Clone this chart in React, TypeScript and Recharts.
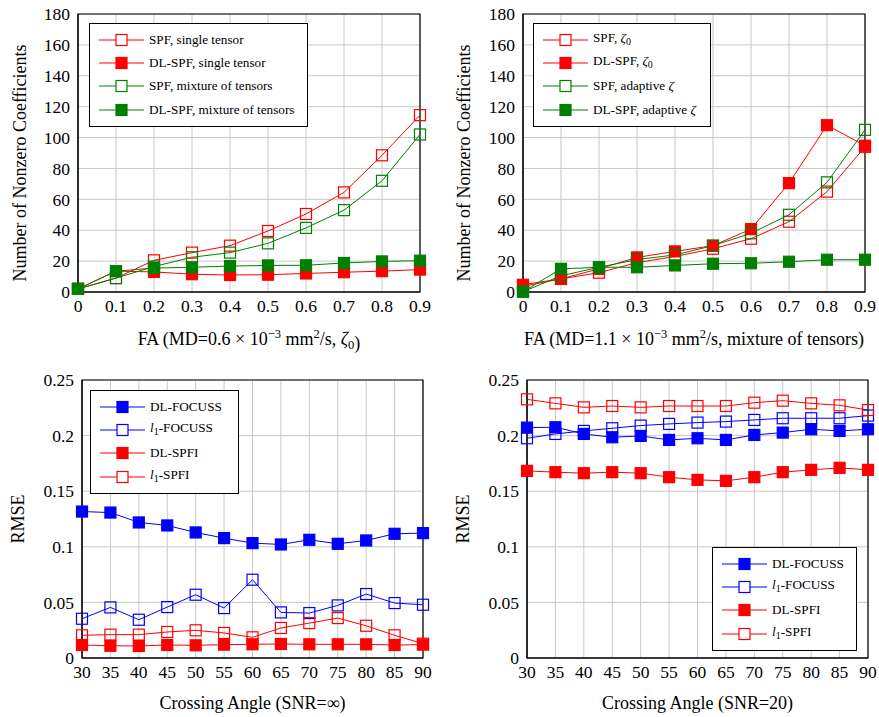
import React from 'react'
import { LineChart, Line, XAxis, YAxis, CartesianGrid, ReferenceArea, Legend, Label } from 'recharts'

// top row: fractional anisotropy sweep
const fa = [0, 0.1, 0.2, 0.3, 0.4, 0.5, 0.6, 0.7, 0.8, 0.9]
const countTicks = [0, 20, 40, 60, 80, 100, 120, 140, 160, 180]

const spfSingle = [2, 9, 20.5, 25.5, 30, 39.5, 50.5, 64.5, 88.5, 114.5]
const dlSpfSingle = [2, 13.5, 13, 11.5, 11, 11.2, 12, 12.8, 13.5, 14.5]
const spfMixture = [2, 9, 16.5, 22.5, 25.5, 31.5, 41.5, 53, 72, 102]
const dlSpfMixture = [2, 13.5, 15.5, 16, 16.8, 17.2, 17.3, 18.8, 19.8, 20.3]

const spfZeta0 = [3.7, 8.5, 12.5, 19, 23, 28, 34.5, 45.5, 65, 94]
const dlSpfZeta0 = [4.7, 8.5, 15, 22.4, 26.3, 30, 40.7, 70.5, 108, 94.7]
const spfAdaptive = [0.2, 10.5, 16, 21, 24, 30, 38, 50, 71, 105]
const dlSpfAdaptive = [0.2, 15, 16, 16, 17.2, 18.3, 18.6, 19.6, 20.9, 20.9]

// bottom row: crossing angle sweep
const angles = [30, 35, 40, 45, 50, 55, 60, 65, 70, 75, 80, 85, 90]
const rmseTicks = [0, 0.05, 0.1, 0.15, 0.2, 0.25]

const dlFocussInf = [0.1317, 0.1308, 0.1219, 0.1192, 0.1129, 0.1078, 0.1033, 0.1021, 0.1063, 0.1027, 0.1057, 0.1117, 0.1123]
const l1FocussInf = [0.0353, 0.0455, 0.0344, 0.0458, 0.0569, 0.0449, 0.0704, 0.041, 0.0404, 0.0473, 0.0575, 0.0494, 0.0479]
const dlSpfiInf = [0.0117, 0.011, 0.0108, 0.0117, 0.0114, 0.012, 0.0123, 0.0126, 0.0123, 0.0123, 0.0123, 0.0117, 0.012]
const l1SpfiInf = [0.0204, 0.021, 0.021, 0.0234, 0.0249, 0.0225, 0.0186, 0.027, 0.0314, 0.0359, 0.029, 0.0204, 0.0129]

const dlFocuss20 = [0.2072, 0.2075, 0.2015, 0.1985, 0.1997, 0.1961, 0.1976, 0.1961, 0.2006, 0.2027, 0.2057, 0.2042, 0.2057]
const l1Focuss20 = [0.1976, 0.2015, 0.2042, 0.2066, 0.209, 0.2105, 0.2117, 0.2126, 0.2141, 0.2156, 0.2156, 0.2156, 0.218]
const dlSpfi20 = [0.1683, 0.1671, 0.1662, 0.1671, 0.1662, 0.1626, 0.1602, 0.1593, 0.1626, 0.1671, 0.1692, 0.171, 0.1692]
const l1Spfi20 = [0.2326, 0.229, 0.2254, 0.2266, 0.2254, 0.2266, 0.2266, 0.2266, 0.2296, 0.2314, 0.229, 0.2272, 0.223]

const RED = '#ff0000'
const GREEN = '#008000'
const BLUE = '#0000ff'
const FONT = "'Liberation Serif', 'DejaVu Serif', serif"

const zeta0 = (
  <>
    <i>ζ</i>
    <sub style={{ fontSize: 10, verticalAlign: -3 }}>0</sub>
  </>
)
const l1 = (
  <>
    <i>l</i>
    <sub style={{ fontSize: 10, verticalAlign: -3 }}>1</sub>
  </>
)

const topLeftSeries = [
  { key: 'spfSingle', values: spfSingle, color: RED, filled: false, label: 'SPF, single tensor' },
  { key: 'dlSpfSingle', values: dlSpfSingle, color: RED, filled: true, label: 'DL-SPF, single tensor' },
  { key: 'spfMixture', values: spfMixture, color: GREEN, filled: false, label: 'SPF, mixture of tensors' },
  { key: 'dlSpfMixture', values: dlSpfMixture, color: GREEN, filled: true, label: 'DL-SPF, mixture of tensors' },
]
const topRightSeries = [
  { key: 'spfZeta0', values: spfZeta0, color: RED, filled: false, label: <>SPF, {zeta0}</> },
  { key: 'dlSpfZeta0', values: dlSpfZeta0, color: RED, filled: true, label: <>DL-SPF, {zeta0}</> },
  { key: 'spfAdaptive', values: spfAdaptive, color: GREEN, filled: false, label: <>SPF, adaptive <i>ζ</i></> },
  { key: 'dlSpfAdaptive', values: dlSpfAdaptive, color: GREEN, filled: true, label: <>DL-SPF, adaptive <i>ζ</i></> },
]
const bottomLeftSeries = [
  { key: 'dlFocuss', values: dlFocussInf, color: BLUE, filled: true, label: 'DL-FOCUSS' },
  { key: 'l1Focuss', values: l1FocussInf, color: BLUE, filled: false, label: <>{l1}-FOCUSS</> },
  { key: 'dlSpfi', values: dlSpfiInf, color: RED, filled: true, label: 'DL-SPFI' },
  { key: 'l1Spfi', values: l1SpfiInf, color: RED, filled: false, label: <>{l1}-SPFI</> },
]
const bottomRightSeries = [
  { key: 'dlFocuss', values: dlFocuss20, color: BLUE, filled: true, label: 'DL-FOCUSS' },
  { key: 'l1Focuss', values: l1Focuss20, color: BLUE, filled: false, label: <>{l1}-FOCUSS</> },
  { key: 'dlSpfi', values: dlSpfi20, color: RED, filled: true, label: 'DL-SPFI' },
  { key: 'l1Spfi', values: l1Spfi20, color: RED, filled: false, label: <>{l1}-SPFI</> },
]

const buildRows = (xs, xKey, series) =>
  xs.map((x, i) => {
    const row = { [xKey]: x }
    series.forEach((s) => (row[s.key] = s.values[i]))
    return row
  })

const squareDot = (color, filled) => (props) => {
  const { cx, cy, index } = props
  if (cx == null || cy == null) return null
  return (
    <rect
      key={index}
      x={cx - 5.5}
      y={cy - 5.5}
      width={11}
      height={11}
      fill={filled ? color : 'none'}
      stroke={color}
      strokeWidth={1.2}
    />
  )
}

const LegendBox = ({ series, width }) => (
  <div
    style={{
      boxSizing: 'border-box',
      width,
      height: 104,
      border: '1.3px solid #000',
      background: '#fff',
      padding: '4px 0 0 9px',
      fontFamily: FONT,
      fontSize: 13.2,
      color: '#000',
    }}
  >
    {series.map((s) => (
      <div key={s.key} style={{ display: 'flex', alignItems: 'center', height: 23.4, whiteSpace: 'nowrap' }}>
        <svg width={45} height={14} style={{ flex: 'none' }}>
          <line x1={0} y1={7} x2={45} y2={7} stroke={s.color} strokeWidth={1} />
          <rect x={17} y={1.5} width={11} height={11} fill={s.filled ? s.color : '#fff'} stroke={s.color} strokeWidth={1.2} />
        </svg>
        <span style={{ marginLeft: 5, lineHeight: '14px' }}>{s.label}</span>
      </div>
    ))}
  </div>
)

const yTitle = (text, x, y) => () => (
  <text
    x={x}
    y={y}
    transform={`rotate(-90, ${x}, ${y})`}
    textAnchor="middle"
    dominantBaseline="central"
    style={{ fontFamily: FONT, fontSize: 18 }}
    fill="#000"
  >
    {text}
  </text>
)

const xTitle = (parts, baseline) => (props) => {
  const { viewBox } = props
  return (
    <text x={viewBox.x + viewBox.width / 2} y={baseline} textAnchor="middle" style={{ fontFamily: FONT, fontSize: 18 }} fill="#000">
      {parts}
    </text>
  )
}

const faTitle = (md, tail) => (
  <>
    <tspan>{`FA (MD=${md} × 10`}</tspan>
    <tspan dy={-7} fontSize={12.5}>−3</tspan>
    <tspan dy={7}> mm</tspan>
    <tspan dy={-7} fontSize={12.5}>2</tspan>
    <tspan dy={7}>{'/s, '}</tspan>
    {tail}
    <tspan>)</tspan>
  </>
)

const tick = { fill: '#000', fontSize: 17.5, style: { fontFamily: FONT } }

const Panel = ({ left, top, margin, xKey, xs, xTicks, xDomain, yTicks, yDomain, series, legendPos, legendWidth, xLabel, xBaseline, yText, yTextX, yTextY }) => {
  const rows = buildRows(xs, xKey, series)
  return (
    <div style={{ position: 'absolute', left, top, fontFamily: FONT }}>
      <LineChart width={440} height={360} data={rows} margin={margin} style={{ fontFamily: FONT }}>
        <CartesianGrid stroke="#c8c8c8" strokeWidth={1} />
        <XAxis
          dataKey={xKey}
          type="number"
          domain={xDomain}
          ticks={xTicks}
          interval={0}
          height={30}
          tick={tick}
          tickLine={false}
          tickSize={6}
          tickMargin={2}
          axisLine={{ stroke: '#000' }}
        >
          <Label content={xTitle(xLabel, xBaseline)} />
        </XAxis>
        <YAxis
          type="number"
          domain={yDomain}
          ticks={yTicks}
          interval={0}
          width={60}
          tick={tick}
          tickLine={false}
          tickSize={6}
          tickMargin={2}
          axisLine={{ stroke: '#000' }}
        >
          <Label content={yTitle(yText, yTextX, yTextY)} />
        </YAxis>
        <ReferenceArea x1={xDomain[0]} x2={xDomain[1]} y1={yDomain[0]} y2={yDomain[1]} fill="none" stroke="#000" strokeWidth={1.2} />
        {series.map((s) => (
          <Line
            key={s.key}
            dataKey={s.key}
            stroke={s.color}
            strokeWidth={1}
            type="linear"
            dot={squareDot(s.color, s.filled)}
            isAnimationActive={false}
          />
        ))}
        <Legend
          layout="vertical"
          align="center"
          verticalAlign="middle"
          wrapperStyle={{ top: legendPos.top, left: legendPos.left, width: 'auto', height: 'auto' }}
          content={() => <LegendBox series={series} width={legendWidth} />}
        />
      </LineChart>
    </div>
  )
}

export default function App() {
  return (
    <div style={{ position: 'absolute', left: 0, top: 0, width: 879, height: 717, background: '#fff', fontFamily: FONT }}>
      <Panel
        left={0}
        top={0}
        margin={{ top: 14, right: 20, bottom: 38, left: 18 }}
        xKey="fa"
        xs={fa}
        xTicks={fa}
        xDomain={[0, 0.9]}
        yTicks={countTicks}
        yDomain={[0, 180]}
        series={topLeftSeries}
        legendPos={{ top: 23, left: 89 }}
        legendWidth={219}
        xLabel={faTitle('0.6', <><tspan fontStyle="italic">ζ</tspan><tspan dy={4} fontSize={12.5}>0</tspan><tspan dy={-4}></tspan></>)}
        xBaseline={345}
        yText="Number of Nonzero Coefficients"
        yTextX={20}
        yTextY={163}
      />
      <Panel
        left={440}
        top={0}
        margin={{ top: 14, right: 15, bottom: 38, left: 23 }}
        xKey="fa"
        xs={fa}
        xTicks={fa}
        xDomain={[0, 0.9]}
        yTicks={countTicks}
        yDomain={[0, 180]}
        series={topRightSeries}
        legendPos={{ top: 23, left: 93 }}
        legendWidth={178}
        xLabel={faTitle('1.1', <tspan>mixture of tensors</tspan>)}
        xBaseline={345}
        yText="Number of Nonzero Coefficients"
        yTextX={24}
        yTextY={163}
      />
      <Panel
        left={0}
        top={360}
        margin={{ top: 20, right: 17, bottom: 32, left: 22 }}
        xKey="angle"
        xs={angles}
        xTicks={angles}
        xDomain={[30, 90]}
        yTicks={rmseTicks}
        yDomain={[0, 0.25]}
        series={bottomLeftSeries}
        legendPos={{ top: 30, left: 90 }}
        legendWidth={149}
        xLabel={<tspan>Crossing Angle (SNR=∞)</tspan>}
        xBaseline={349}
        yText="RMSE"
        yTextX={18}
        yTextY={159}
      />
      <Panel
        left={440}
        top={360}
        margin={{ top: 20, right: 12, bottom: 32, left: 27 }}
        xKey="angle"
        xs={angles}
        xTicks={angles}
        xDomain={[30, 90]}
        yTicks={rmseTicks}
        yDomain={[0, 0.25]}
        series={bottomRightSeries}
        legendPos={{ top: 187, left: 272 }}
        legendWidth={145}
        xLabel={<tspan>Crossing Angle (SNR=20)</tspan>}
        xBaseline={349}
        yText="RMSE"
        yTextX={23}
        yTextY={159}
      />
    </div>
  )
}
